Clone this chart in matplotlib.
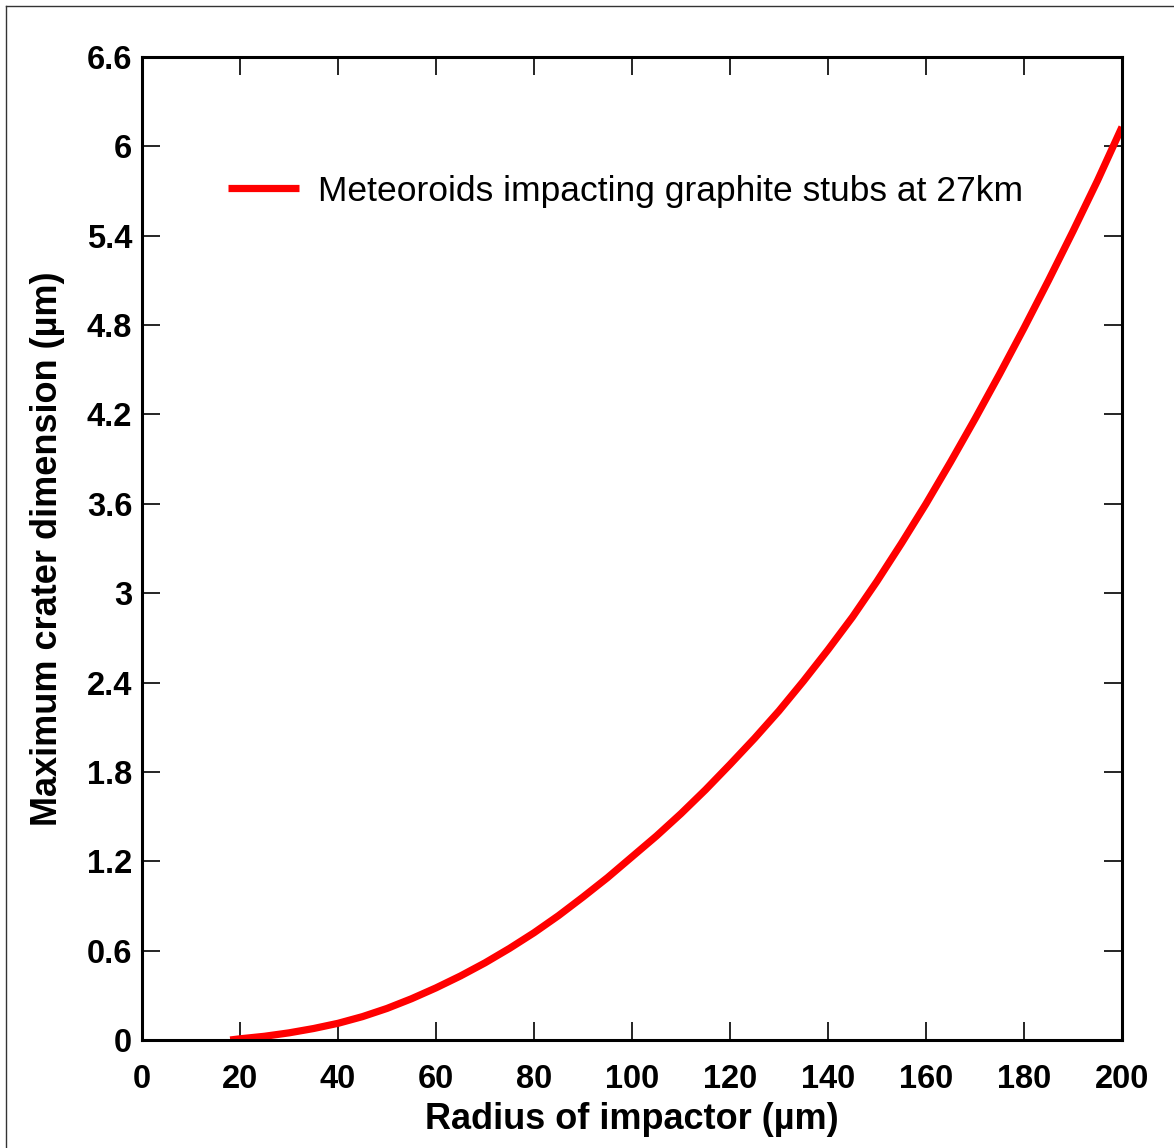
import matplotlib
matplotlib.use("Agg")
import matplotlib.pyplot as plt
from matplotlib.lines import Line2D
from matplotlib.font_manager import FontProperties

radius = [18, 20, 25, 30, 35, 40, 45, 50, 55, 60, 65, 70, 75, 80, 85, 90, 95, 100,
          105, 110, 115, 120, 125, 130, 135, 140, 145, 150, 155, 160, 165, 170,
          175, 180, 185, 190, 195, 200]
crater = [0.0, 0.008, 0.025, 0.048, 0.077, 0.112, 0.157, 0.212, 0.277, 0.350, 0.430, 0.518,
          0.615, 0.72, 0.835, 0.96, 1.09, 1.23, 1.37, 1.52, 1.68, 1.85, 2.025, 2.21,
          2.41, 2.62, 2.84, 3.08, 3.335, 3.60, 3.88, 4.17, 4.47, 4.78, 5.10, 5.43,
          5.77, 6.13]
series_label = "Meteoroids impacting graphite stubs at 27km"
x_ticks = [0, 20, 40, 60, 80, 100, 120, 140, 160, 180, 200]
y_ticks = [0, 0.6, 1.2, 1.8, 2.4, 3, 3.6, 4.2, 4.8, 5.4, 6, 6.6]
y_tick_labels = ["0", "0.6", "1.2", "1.8", "2.4", "3", "3.6", "4.2", "4.8", "5.4", "6", "6.6"]

W, H = 1174, 1148
fig = plt.figure(figsize=(W / 100, H / 100), dpi=100)
ax = fig.add_axes([142 / W, 1 - 1040 / H, (1122 - 142) / W, (1040 - 57) / H])

ax.plot(radius, crater, color="#ff0000", lw=5.2, label=series_label, solid_capstyle="butt")
ax.set_xlim(0, 200)
ax.set_ylim(0, 6.6)
ax.set_xticks(x_ticks)
ax.set_xticklabels([str(v) for v in x_ticks])
ax.set_yticks(y_ticks)
ax.set_yticklabels(y_tick_labels)

for s in ax.spines.values():
    s.set_linewidth(2.2)
    s.set_color("black")

bold = dict(family="Liberation Sans", weight="bold")
ax.tick_params(axis="both", which="major", direction="in", length=13, width=1.2,
               top=True, right=True, colors="black")
ax.tick_params(axis="x", pad=17)
ax.tick_params(axis="y", pad=7)
for lab in ax.get_xticklabels() + ax.get_yticklabels():
    lab.set_fontproperties(FontProperties(size=23.5, **bold))

ax.set_xlabel("Radius of impactor (µm)", fontsize=26, labelpad=5, **bold)
ax.set_ylabel("Maximum crater dimension (µm)", fontsize=26, labelpad=16, **bold)

leg = ax.legend(loc="center left", bbox_to_anchor=(228 / W, 1 - 191 / H),
                bbox_transform=fig.transFigure, frameon=False,
                prop=dict(family="Liberation Sans", size=25.5),
                handlelength=2.0, handletextpad=0.55, borderpad=0, borderaxespad=0)
leg.get_lines()[0].set_linewidth(5.2)

fig.add_artist(Line2D([6 / W, 6 / W], [0, 1 - 6 / H], transform=fig.transFigure, color="#333333", lw=1))
fig.add_artist(Line2D([6 / W, 1], [1 - 6 / H, 1 - 6 / H], transform=fig.transFigure, color="#333333", lw=1))

fig.savefig("out.png", dpi=100)
